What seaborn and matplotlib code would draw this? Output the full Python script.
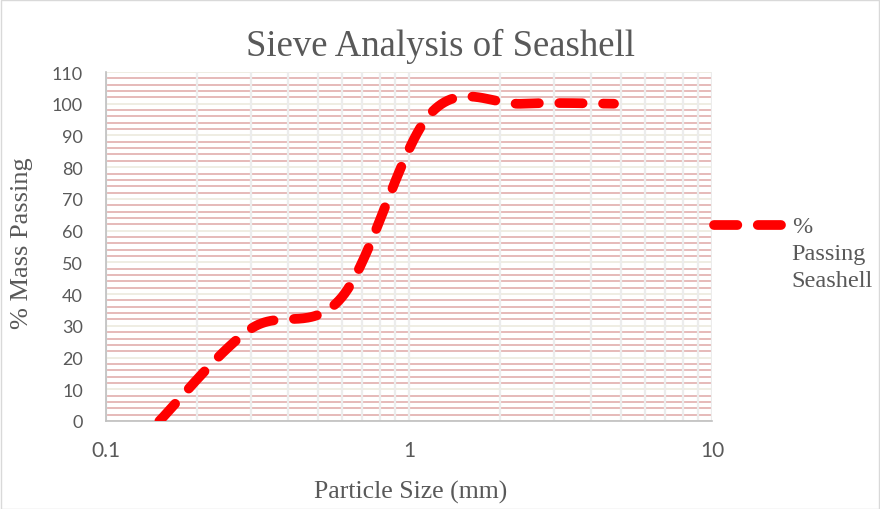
import numpy as np
import matplotlib
matplotlib.use("Agg")
import matplotlib.pyplot as plt
from matplotlib.ticker import MultipleLocator, LogLocator, FixedLocator, FixedFormatter, NullFormatter
from matplotlib.legend_handler import HandlerLine2D
from matplotlib.patches import Rectangle
import seaborn as sns

# ---- data ----
sieve_size_mm = [0.15, 0.3, 0.6, 1.18, 2.36, 4.75]
pct_passing = [0, 29, 39, 97, 100, 100]
series_label = "%\nPassing\nSeashell"
title = "Sieve Analysis of Seashell"
x_label = "Particle Size (mm)"
y_label = "% Mass Passing"
x_ticks = [0.1, 1, 10]
x_tick_labels = ["0.1", "1", "10"]

sns.set_style("white")

FIG_W, FIG_H = 880, 510
fig = plt.figure(figsize=(FIG_W / 100, FIG_H / 100), dpi=100)
L, R, T, B = 106, 712, 73, 422
ax = fig.add_axes([L / FIG_W, 1 - B / FIG_H, (R - L) / FIG_W, (B - T) / FIG_H])

ax.set_xscale("log")
ax.set_xlim(0.1, 10)
ax.set_ylim(0, 110)

# ---- Excel-style smoothed line (Bezier in display space) ----
pw, ph = (R - L), (B - T)
px = (np.log10(sieve_size_mm) + 1) / 2 * pw
py = np.array(pct_passing) / 110 * ph
P = np.column_stack([px, py])
n = len(P)
curve = []
for i in range(n - 1):
    p0 = P[i - 1] if i > 0 else P[i]
    p1 = P[i]
    p2 = P[i + 1]
    p3 = P[i + 2] if i + 2 < n else P[i + 1]
    c1 = p1 + (p2 - p0) / 6
    c2 = p2 - (p3 - p1) / 6
    t = np.linspace(0, 1, 60)[:, None]
    seg = ((1 - t) ** 3) * p1 + 3 * ((1 - t) ** 2) * t * c1 + 3 * (1 - t) * t ** 2 * c2 + t ** 3 * p2
    curve.append(seg if i == 0 else seg[1:])
curve = np.vstack(curve)
xs = 10 ** (curve[:, 0] / pw * 2 - 1)
ys = curve[:, 1] / ph * 110

sns.lineplot(x=xs, y=ys, sort=False, ax=ax, color="#FF0000", linewidth=7,
             linestyle=(0, (2.4, 2.1)), dash_capstyle="round", label=series_label,
             zorder=5, estimator=None)

# ---- grid ----
ax.yaxis.set_major_locator(MultipleLocator(10))
ax.yaxis.set_minor_locator(MultipleLocator(2))
ax.xaxis.set_major_locator(FixedLocator(x_ticks))
ax.xaxis.set_major_formatter(FixedFormatter(x_tick_labels))
ax.xaxis.set_minor_locator(LogLocator(base=10, subs=np.arange(2, 10), numticks=20))
ax.xaxis.set_minor_formatter(NullFormatter())
ax.grid(False)
ax.grid(which="minor", axis="y", color="#E4B4B3", linewidth=1.3)
ax.grid(which="major", axis="y", color="#EEECE1", linewidth=1.3)
ax.grid(which="both", axis="x", color="#ECECEC", linewidth=1.6)
ax.set_axisbelow(True)
ax.xaxis.set_zorder(0.6)
ax.tick_params(which="both", length=0)
ax.tick_params(axis="y", labelsize=13, labelcolor="#595959", pad=16.5)
ax.tick_params(axis="x", labelsize=15, labelcolor="#595959", pad=14)
for lab in ax.get_xticklabels() + ax.get_yticklabels():
    lab.set_family("Lato")

for s in ["top", "right"]:
    ax.spines[s].set_visible(False)
ax.spines["left"].set_color("#BFBFBF")
ax.spines["left"].set_linewidth(1.2)
ax.spines["bottom"].set_color("#BFBFBF")
ax.spines["bottom"].set_linewidth(1.2)

serif = "Liberation Serif"
ax.set_xlabel(x_label, family=serif, fontsize=18.5, color="#595959", va="center")
ax.xaxis.set_label_coords((411 - L) / pw, (B - 492) / ph)
ax.set_ylabel(y_label, family=serif, fontsize=19, color="#595959", va="center")
ax.yaxis.set_label_coords((22 - L) / pw, (B - 243) / ph)
fig.text(441 / FIG_W, 1 - 46 / FIG_H, title, family=serif, fontsize=26.5, color="#595959",
         ha="center", va="center")


class TopLine(HandlerLine2D):
    def create_artists(self, legend, orig_handle, xdescent, ydescent, width, height, fontsize, trans):
        arts = super().create_artists(legend, orig_handle, xdescent, ydescent, width, height, fontsize, trans)
        for a in arts:
            yd = np.asarray(a.get_ydata(), dtype=float)
            a.set_ydata(np.full_like(yd, height - 0.0 * fontsize - ydescent))
        return arts


h, lbl = ax.get_legend_handles_labels()
leg = ax.legend(h, lbl, loc="upper left", bbox_to_anchor=(714 / FIG_W, 1 - 217 / FIG_H),
                bbox_transform=fig.transFigure, frameon=False, handlelength=2.75,
                handleheight=3.4, handletextpad=0.45, borderaxespad=0, borderpad=0,
                prop={"family": serif, "size": 17.5}, labelcolor="#595959",
                handler_map={type(h[0]): TopLine()})
for t in leg.get_texts():
    t.set_linespacing(1.38)

fig.add_artist(Rectangle((0.5 / FIG_W, 0.5 / FIG_H), 1 - 1.5 / FIG_W, 1 - 1.5 / FIG_H,
                         transform=fig.transFigure, fill=False, edgecolor="#D9D9D9", linewidth=1))

fig.savefig("out.png", dpi=100)
